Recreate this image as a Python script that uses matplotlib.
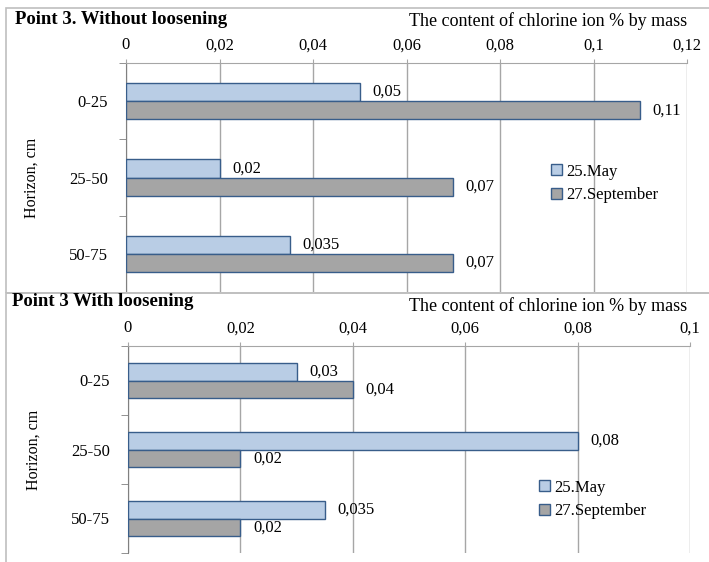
import matplotlib
matplotlib.use("Agg")
import matplotlib.pyplot as plt
from matplotlib.patches import Rectangle, Patch
import numpy as np

plt.rcParams['font.family'] = ['Liberation Serif', 'DejaVu Serif']

categories = ["0-25", "25-50", "50-75"]
series_names = ["25.May", "27.September"]

top_may = [0.05, 0.02, 0.035]
top_sep = [0.11, 0.07, 0.07]
bot_may = [0.03, 0.08, 0.035]
bot_sep = [0.04, 0.02, 0.02]

top_ticks = [0, 0.02, 0.04, 0.06, 0.08, 0.1, 0.12]
top_ticklabels = ["0", "0,02", "0,04", "0,06", "0,08", "0,1", "0,12"]
bot_ticks = [0, 0.02, 0.04, 0.06, 0.08, 0.1]
bot_ticklabels = ["0", "0,02", "0,04", "0,06", "0,08", "0,1"]

top_title = "Point 3. Without loosening"
bot_title = "Point 3 With loosening"
x_title = "The content of chlorine ion % by mass"
y_title = "Horizon, cm"

MAY_FILL = "#B9CDE5"
SEP_FILL = "#A5A5A5"
EDGE = "#385D8A"
GRID = "#A6A6A6"
FRAME = "#BFBFBF"
NUM_FS = 12

W, H = 709, 562
fig = plt.figure(figsize=(W / 100, H / 100), dpi=100)


def px_axes(left, top, right, bottom):
    return fig.add_axes([left / W, 1 - bottom / H, (right - left) / W, (bottom - top) / H])


def fmt(v):
    return f"{v:g}".replace(".", ",")


def draw_panel(ax, may, sep, ticks, ticklabels, bar_h, legend_anchor):
    y = np.arange(len(categories))
    ax.barh(y - bar_h / 2, may, height=bar_h, color=MAY_FILL, edgecolor=EDGE,
            linewidth=1.0, zorder=3, label=series_names[0])
    ax.barh(y + bar_h / 2, sep, height=bar_h, color=SEP_FILL, edgecolor=EDGE,
            linewidth=1.0, zorder=3, label=series_names[1])
    for yi, v in zip(y, may):
        ax.annotate(fmt(v), (v, yi - bar_h / 2), xytext=(9, 0), textcoords="offset points",
                    va="center", ha="left", fontsize=NUM_FS)
    for yi, v in zip(y, sep):
        ax.annotate(fmt(v), (v, yi + bar_h / 2), xytext=(9, 0), textcoords="offset points",
                    va="center", ha="left", fontsize=NUM_FS)

    ax.set_xlim(ticks[0], ticks[-1])
    ax.set_ylim(len(categories) - 0.5, -0.5)
    ax.xaxis.tick_top()
    ax.set_xticks(ticks)
    ax.set_xticklabels(ticklabels, fontsize=NUM_FS)
    ax.tick_params(axis="x", length=3, color=GRID, pad=4)
    ax.xaxis.grid(True, color=GRID, linewidth=1.0, zorder=0)

    ax.set_yticks(y)
    ax.set_yticklabels(categories, fontsize=NUM_FS)
    ax.set_yticks(np.arange(-0.5, len(categories)), minor=True)
    ax.tick_params(axis="y", which="major", length=0, pad=13)
    ax.tick_params(axis="y", which="minor", length=5, color="#808080")

    for s in ["right", "bottom"]:
        ax.spines[s].set_visible(False)
    ax.spines["top"].set_color(GRID)
    ax.spines["left"].set_color("#808080")

    ax.set_ylabel(y_title, fontsize=11.5, labelpad=21, fontstretch="condensed")

    handles = [Patch(facecolor=MAY_FILL, edgecolor=EDGE, label=series_names[0]),
               Patch(facecolor=SEP_FILL, edgecolor=EDGE, label=series_names[1])]
    ax.legend(handles=handles, loc="upper left", bbox_to_anchor=legend_anchor,
              bbox_transform=fig.transFigure, frameon=False, fontsize=12,
              handlelength=0.65, handleheight=0.65, handletextpad=0.3,
              labelspacing=0.45, borderaxespad=0)


# panel frames
fig.patches.append(Rectangle((6 / W, 1 - 293 / H), 800 / W, 285 / H, transform=fig.transFigure,
                             fill=False, edgecolor=FRAME, linewidth=1.2))
fig.patches.append(Rectangle((6 / W, 1 - 600 / H), 800 / W, 307 / H, transform=fig.transFigure,
                             fill=False, edgecolor=FRAME, linewidth=1.2))

ax1 = px_axes(126, 63, 687, 292)
draw_panel(ax1, top_may, top_sep, top_ticks, top_ticklabels, 0.24, (544 / W, 1 - 157 / H))

ax2 = px_axes(128, 346, 690, 553)
draw_panel(ax2, bot_may, bot_sep, bot_ticks, bot_ticklabels, 0.26, (532 / W, 1 - 473 / H))

fig.text(15 / W, 1 - 19 / H, top_title, fontsize=13.5, fontweight="bold", va="center", ha="left")
fig.text(687 / W, 1 - 21 / H, x_title, fontsize=13, va="center", ha="right")
fig.text(12 / W, 1 - 302 / H, bot_title, fontsize=13.5, fontweight="bold", va="center", ha="left")
fig.text(687 / W, 1 - 306 / H, x_title, fontsize=13, va="center", ha="right")

fig.savefig("out.png", dpi=100)
